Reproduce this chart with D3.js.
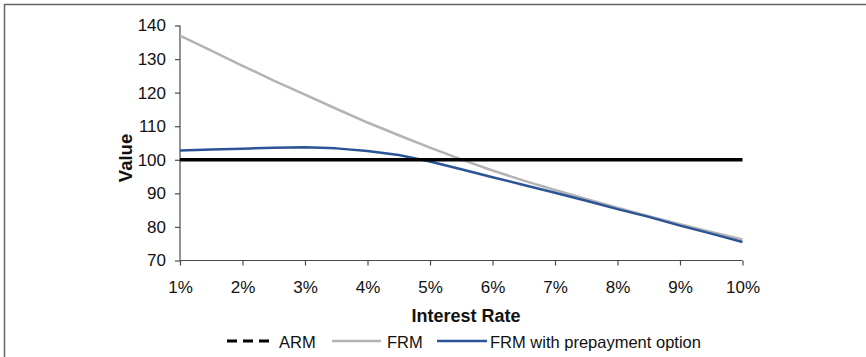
<!DOCTYPE html>
<html>
<head>
<meta charset="utf-8">
<script src="https://cdn.jsdelivr.net/npm/d3@7"></script>
<style>
  html, body { margin: 0; padding: 0; background: #fff; }
  svg { display: block; font-family: "Liberation Sans", Arial, sans-serif; }
</style>
</head>
<body>
<svg id="chart" width="866" height="357"></svg>
<script>
// Interest rates (%) at which each mortgage is valued
const rates = [1, 1.5, 2, 2.5, 3, 3.5, 4, 4.5, 5, 5.5, 6, 6.5, 7, 7.5, 8, 8.5, 9, 9.5, 10];
// Adjustable-rate mortgage: always worth par
const arm = [100, 100, 100, 100, 100, 100, 100, 100, 100, 100, 100, 100, 100, 100, 100, 100, 100, 100, 100];
// Fixed-rate mortgage
const frm = [137, 132.5, 128, 123.6, 119.4, 115.2, 111.1, 107.3, 103.6, 100.1, 96.8, 93.8, 91, 88.3, 85.7, 83.2, 80.8, 78.5, 76.3];
// Fixed-rate mortgage with prepayment option
const frmPrepay = [102.8, 103.1, 103.3, 103.6, 103.7, 103.4, 102.6, 101.4, 99.5, 97.2, 94.8, 92.5, 90.2, 87.8, 85.3, 83, 80.4, 78, 75.5];

const xTicks = [1, 2, 3, 4, 5, 6, 7, 8, 9, 10];
const yTicks = [70, 80, 90, 100, 110, 120, 130, 140];

const series = [
  { name: "ARM", values: arm, color: "#000000", width: 3.5, legendDash: "10,6" },
  { name: "FRM", values: frm, color: "#b3b3b3", width: 2.5, legendDash: null },
  { name: "FRM with prepayment option", values: frmPrepay, color: "#2b5496", width: 2.5, legendDash: null }
];

const svg = d3.select("#chart");

// Outer frame
svg.append("rect")
  .attr("x", 4.5).attr("y", 4.5)
  .attr("width", 900).attr("height", 400)
  .attr("fill", "none")
  .attr("stroke", "#666")
  .attr("stroke-width", 1.5);

const x = d3.scaleLinear().domain([1, 10]).range([180, 742.5]);
const y = d3.scaleLinear().domain([70, 140]).range([260.5, 25.5]);

const axisColor = "#4a4a4a";
const tickFont = "17px";

// Y axis
const yAxis = svg.append("g")
  .attr("transform", `translate(${x(1)},0)`)
  .call(d3.axisLeft(y).tickValues(yTicks).tickSize(5).tickPadding(9).tickFormat(d3.format("d")));
// X axis
const xAxis = svg.append("g")
  .attr("transform", `translate(0,${y(70)})`)
  .call(d3.axisBottom(x).tickValues(xTicks).tickSize(5).tickPadding(15.5).tickFormat(d => d + "%"));

[yAxis, xAxis].forEach(g => {
  g.select(".domain").attr("stroke", axisColor).attr("stroke-width", 1.2);
  g.selectAll(".tick line").attr("stroke", axisColor).attr("stroke-width", 1.2);
  g.selectAll(".tick text")
    .attr("fill", "#111")
    .style("font-family", "'Liberation Sans', Arial, sans-serif")
    .style("font-size", tickFont);
});
yAxis.select(".domain").attr("d", `M0,${y(140)}V${y(70)}`);
xAxis.select(".domain").attr("d", `M${x(1)},0H${x(10)}`);

// Lines
const line = d3.line()
  .x((d, i) => x(rates[i]))
  .y(d => y(d));

const drawOrder = [series[1], series[2], series[0]];
drawOrder.forEach(s => {
  svg.append("path")
    .datum(s.values)
    .attr("fill", "none")
    .attr("stroke", s.color)
    .attr("stroke-width", s.width)
    .attr("stroke-linejoin", "round")
    .attr("d", line);
});

// Axis titles
svg.append("text")
  .attr("x", 466)
  .attr("y", 321.5)
  .attr("text-anchor", "middle")
  .style("font-size", "18px")
  .style("font-weight", "bold")
  .attr("fill", "#111")
  .text("Interest Rate");

svg.append("text")
  .attr("transform", `translate(131.5,158) rotate(-90)`)
  .attr("text-anchor", "middle")
  .style("font-size", "18.5px")
  .style("font-weight", "bold")
  .attr("fill", "#111")
  .text("Value");

// Legend
const legendItems = [
  { s: series[0], x1: 227, x2: 272, tx: 279 },
  { s: series[1], x1: 332, x2: 381, tx: 387 },
  { s: series[2], x1: 437, x2: 487, tx: 490 }
];
const legendY = 341;
const legend = svg.append("g");
legendItems.forEach(item => {
  legend.append("line")
    .attr("x1", item.x1).attr("x2", item.x2)
    .attr("y1", legendY).attr("y2", legendY)
    .attr("stroke", item.s.color)
    .attr("stroke-width", item.s.name === "ARM" ? 3 : 2.5)
    .attr("stroke-dasharray", item.s.legendDash);
  legend.append("text")
    .attr("x", item.tx)
    .attr("y", 348)
    .style("font-size", "16.5px")
    .attr("fill", "#111")
    .text(item.s.name);
});
</script>
</body>
</html>
